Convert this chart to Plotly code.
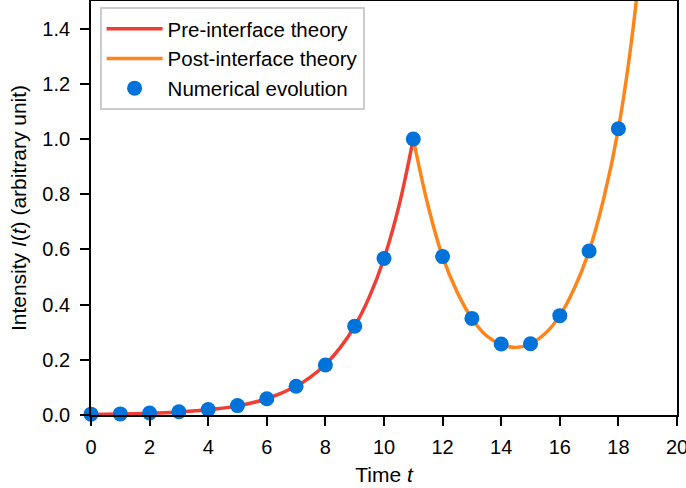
import plotly.graph_objects as go

# Pre-interface theory curve
pre_t = [0, 1, 2, 3, 4, 5, 6, 7, 7.5, 8, 8.5, 9, 9.5, 10, 10.5, 11]
pre_I = [0.002, 0.0035, 0.006, 0.011, 0.019, 0.033, 0.059, 0.104, 0.138, 0.183, 0.243,
         0.322, 0.428, 0.567, 0.753, 1.0]

# Post-interface theory curve
post_t = [11, 11.5, 12, 12.5, 13, 13.5, 14, 14.5, 15, 15.5, 16, 16.5, 17, 17.5, 18, 18.5, 19]
post_I = [1.0, 0.76, 0.574, 0.445, 0.35, 0.287, 0.255, 0.245, 0.258, 0.295, 0.36,
          0.46, 0.594, 0.785, 1.037, 1.40, 1.92]

# Numerical evolution points
num_t = list(range(0, 19))
num_I = [0.003, 0.004, 0.007, 0.012, 0.02, 0.034, 0.059, 0.104, 0.181, 0.322, 0.567,
         1.0, 0.574, 0.35, 0.257, 0.258, 0.36, 0.594, 1.037]

x_ticks = [0, 2, 4, 6, 8, 10, 12, 14, 16, 18, 20]
y_ticks = [0.0, 0.2, 0.4, 0.6, 0.8, 1.0, 1.2, 1.4]

RED = "#F23D33"
ORANGE = "#FF8419"
BLUE = "#0073DB"
FONT = "Liberation Sans, Arial, sans-serif"

fig = go.Figure()
fig.add_trace(go.Scatter(x=pre_t, y=pre_I, mode="lines", name="Pre-interface theory",
                         line=dict(color=RED, width=3.5, shape="spline")))
fig.add_trace(go.Scatter(x=post_t, y=post_I, mode="lines", name="Post-interface theory",
                         line=dict(color=ORANGE, width=3.5, shape="spline")))
fig.add_trace(go.Scatter(x=num_t, y=num_I, mode="markers", name="Numerical evolution",
                         marker=dict(color=BLUE, size=15, line=dict(width=0)),
                         cliponaxis=False))

axis_common = dict(showline=True, linecolor="black", linewidth=1.8, mirror=True,
                   ticks="outside", ticklen=9, tickwidth=1.8, tickcolor="black",
                   showgrid=False, zeroline=False, automargin=False,
                   ticklabeloverflow="allow",
                   tickfont=dict(family=FONT, size=20, color="black"))

fig.update_layout(
    width=686, height=488,
    margin=dict(l=91, r=9, t=1, b=73),
    paper_bgcolor="white", plot_bgcolor="white",
    font=dict(family=FONT, size=20, color="black"),
    xaxis=dict(range=[0, 20], tickvals=x_ticks, ticktext=[str(v) for v in x_ticks],
               ticklabelstandoff=4,
               title=dict(text="Time <i>t</i>", font=dict(family=FONT, size=21), standoff=10),
               **axis_common),
    yaxis=dict(range=[0, 1.5], tickvals=y_ticks, ticktext=[f"{v:.1f}" for v in y_ticks],
               ticklabelstandoff=6,
               title=dict(text="Intensity <i>I</i>(<i>t</i>) (arbitrary unit)",
                          font=dict(family=FONT, size=21), standoff=10),
               **axis_common),
    legend=dict(x=0.015, y=0.985, xanchor="left", yanchor="top",
                bgcolor="rgba(255,255,255,0.85)", bordercolor="#CCCCCC", borderwidth=1.8,
                font=dict(family=FONT, size=20.5, color="black"),
                itemwidth=56),
    showlegend=True,
)

fig.write_html("out.html", config={"displayModeBar": False},
               post_script="document.body.style.margin='0px';")
